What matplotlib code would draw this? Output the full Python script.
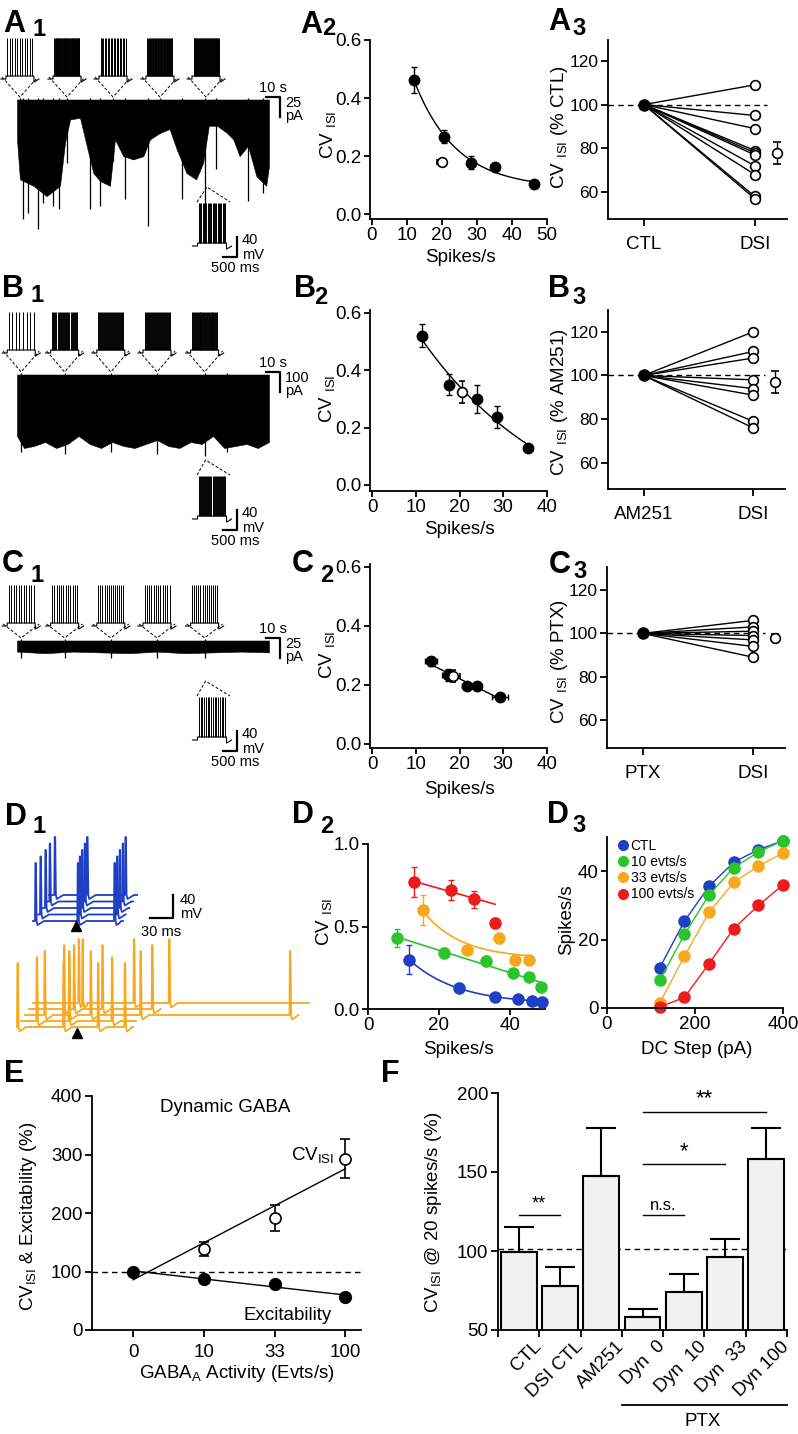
import numpy as np
import matplotlib
matplotlib.use("Agg")
import matplotlib.pyplot as plt
from matplotlib.lines import Line2D

plt.rcParams["font.family"] = ["Liberation Sans", "DejaVu Sans"]
plt.rcParams["mathtext.fontset"] = "custom"
plt.rcParams["mathtext.rm"] = "Liberation Sans"
plt.rcParams["mathtext.it"] = "Liberation Sans:italic"
plt.rcParams["mathtext.bf"] = "Liberation Sans:bold"

BLUE, GREEN, ORANGE, RED = "#1f3fc4", "#2cc42c", "#f7a81e", "#ec1c1c"
CV = r"CV $_{\mathrm{ISI}}$"

# ---------------- data ----------------
# A1-C1 recordings: lower envelope of the IPSC barrage (s, pA) and big events
a1_t = [0, 2.1, 11.7, 21.2, 30.7, 34.3, 37.9, 45, 49.8, 54.5, 59.3, 66.4, 70, 75.9, 83,
        90.2, 95, 102, 109, 114, 121, 128, 133, 137, 143, 150, 154.5, 159, 165, 171, 178, 180]
a1_depth = [48, 98, 106, 119, 106, 52, 23, 21, 56, 90, 100, 106, 48, 69, 73,
            69, 48, 40, 35, 60, 90, 98, 77, 31, 31, 40, 48, 69, 56, 94, 106, 81]
a1_ev_t = [2.1, 4.5, 7.9, 15.3, 18.9, 26, 30.2, 35.5, 52, 59.3, 68.6, 77.4, 93.9, 102.1,
           117.6, 134.4, 142.1, 165, 176]
a1_ev_depth = [60, 148, 140, 160, 127, 131, 135, 77, 135, 131, 75, 123, 156, 40,
               123, 160, 85, 125, 115]
a1_inset_t = [2.1, 35.7, 68.6, 102.1, 135]
a1_inset_spikes = [11, 45, 18, 35, 45]
a1_dsi_spikes = 22

b1_t = [0, 5, 12, 20, 28, 36, 44, 52, 60, 68, 76, 84, 92, 100, 108, 116, 124, 132, 140,
        148, 156, 164, 172, 180]
b1_depth = [300, 360, 350, 330, 360, 340, 300, 340, 360, 330, 350, 360, 340, 320, 350,
            360, 330, 340, 300, 360, 350, 340, 360, 330]
b1_ev_t = [3, 34, 67, 100, 134, 150]
b1_ev_depth = [380, 390, 380, 390, 400, 380]
b1_inset_t = [3, 34, 67, 100, 134]
b1_inset_spikes = [8, 24, 26, 26, 28]
b1_dsi_spikes = 26

c1_t = [0, 20, 40, 60, 80, 100, 120, 140, 160, 180]
c1_depth = [12, 14, 12, 13, 14, 12, 14, 13, 12, 13]
c1_ev_t = [3, 34, 67, 100, 134]
c1_ev_depth = [20, 20, 20, 20, 20]
c1_inset_t = [3, 34, 67, 100, 134]
c1_inset_spikes = [11, 12, 13, 12, 13]
c1_dsi_spikes = 16

# D1: spike times (ms) of the stacked dynamic-clamp sweeps
d1_ctl_spikes = [[2.6, 57.8, 105.6], [3.9, 55.2, 103.9], [5.2, 53.1, 102.1],
                 [5.6, 51.3, 100.8], [6.9, 49.2, 99.1]]
d1_33_spikes = [[0, 60, 105, 140], [20, 62, 118], [25, 57, 85, 150, 345],
                [45, 58, 95, 160], [59, 64, 131, 177]]
d1_33_len = [150, 150, 200, 140, 360]

# A2 / B2 / C2 : CV_ISI vs firing (filled = control, open = DSI)
a2_rate = [12.0, 20.7, 28.3, 35.1, 46.4]
a2_cv = [0.462, 0.267, 0.177, 0.163, 0.102]
a2_err = [0.046, 0.022, 0.023, 0.0, 0.0]
a2_dsi_rate, a2_dsi_cv, a2_dsi_xerr = [19.9], [0.178], [1.3]

b2_rate = [11.4, 17.6, 23.9, 28.6, 35.6]
b2_cv = [0.52, 0.35, 0.30, 0.238, 0.128]
b2_err = [0.04, 0.038, 0.05, 0.038, 0.0]
b2_dsi_rate, b2_dsi_cv, b2_dsi_err = [20.5], [0.325], [0.038]

c2_rate = [13.5, 17.3, 21.6, 23.9, 29.3]
c2_cv = [0.28, 0.235, 0.195, 0.195, 0.16]
c2_err = [0.015, 0.02, 0.01, 0.01, 0.0]
c2_xerr = [1.3, 1.3, 1.0, 1.0, 1.8]
c2_dsi_rate, c2_dsi_cv, c2_dsi_err, c2_dsi_xerr = [18.6], [0.23], [0.02], [1.5]

# A3 / B3 / C3 : normalised CV_ISI after DSI
a3_dsi = [109, 95, 89, 79, 78, 77, 72, 68, 58, 57]
a3_mean, a3_sem = 78, 5
b3_dsi = [120, 111, 108, 98, 94, 91, 79, 76]
b3_mean, b3_sem = 97, 5
c3_dsi = [106, 103, 101, 99, 97, 94, 89]
c3_mean, c3_sem = 98, 1.5

# D2 : CV_ISI vs spikes/s for each dynamic GABA rate
d2_ctl_rate = [11.6, 25.7, 35.8, 42.5, 46.2, 49.2]
d2_ctl_cv = [0.30, 0.125, 0.075, 0.06, 0.05, 0.045]
d2_ctl_err = [0.09, 0, 0, 0, 0, 0]
d2_10_rate = [8.1, 21.5, 33.4, 40.9, 45.4, 48.9]
d2_10_cv = [0.43, 0.34, 0.29, 0.22, 0.195, 0.135]
d2_10_err = [0.055, 0.03, 0.03, 0, 0, 0]
d2_33_rate = [15.4, 28.1, 36.9, 41.6, 45.4]
d2_33_cv = [0.60, 0.36, 0.43, 0.30, 0.30]
d2_33_err = [0.09, 0.025, 0.03, 0, 0]
d2_100_rate = [13.0, 23.5, 29.9, 35.9]
d2_100_cv = [0.77, 0.72, 0.665, 0.52]
d2_100_err = [0.09, 0.06, 0.05, 0.03]

# D3 : f-I curves
d3_step = [120, 176, 232, 288, 344, 400]
d3_ctl = [11.8, 25.4, 35.6, 42.6, 46.3, 48.9]
d3_10 = [8.2, 21.5, 33.1, 41.0, 45.6, 48.9]
d3_33 = [1.5, 15.1, 28.0, 36.7, 41.5, 45.3]
d3_100 = [0.3, 3.1, 13.0, 23.2, 30.0, 36.0]
d3_labels = ["CTL", "10 evts/s", "33 evts/s", "100 evts/s"]

# E : dynamic GABA summary
e_ticks = ["0", "10", "33", "100"]
e_cv = [100, 138, 192, 293]
e_cv_err = [0, 12, 22, 34]
e_exc = [100, 86.7, 78, 57]

# F : CV_ISI at 20 spikes/s
f_labels = ["CTL", "DSI CTL", "AM251", "Dyn  0", "Dyn  10", "Dyn  33", "Dyn 100"]
f_vals = [99.5, 78, 147.5, 58.4, 74, 96, 158]
f_err = [15.5, 11.6, 30.5, 4.6, 11.6, 11.4, 20]
f_sig = [(0, 1, 122.8, "**"), (3, 4, 122.8, "n.s."), (3, 5, 155, "*"), (3, 6, 188, "**")]

# ---------------- figure ----------------
W, H = 798, 1434
fig = plt.figure(figsize=(W / 100, H / 100), dpi=100)

ov = fig.add_axes([0, 0, 1, 1], zorder=5)
ov.set_xlim(0, W)
ov.set_ylim(H, 0)
ov.axis("off")

FS = 13.5


def px_axes(x0, y0, x1, y1):
    return fig.add_axes([x0 / W, 1 - y1 / H, (x1 - x0) / W, (y1 - y0) / H])


def style(ax, ticklen=4, xpad=2):
    for s in ["top", "right"]:
        ax.spines[s].set_visible(False)
    for s in ["left", "bottom"]:
        ax.spines[s].set_linewidth(1.3)
    ax.tick_params(direction="out", length=ticklen, width=1.3, labelsize=FS, pad=2)
    ax.tick_params(axis="x", pad=xpad)
    ax.patch.set_alpha(0)


def label(x, y, letter, sub, sx, sy):
    ov.text(x, y, letter, fontsize=22, fontweight="bold", va="baseline", ha="left")
    ov.text(sx, sy, sub, fontsize=17, fontweight="bold", va="baseline", ha="left")


def exp_curve(x, y, n=120):
    x = np.asarray(x, float)
    y = np.asarray(y, float)
    best = None
    for k in np.linspace(0.005, 0.4, 400):
        A = np.column_stack([np.exp(-k * x), np.ones_like(x)])
        coef = np.linalg.lstsq(A, y, rcond=None)[0]
        r = np.sum((A @ coef - y) ** 2)
        if best is None or r < best[0]:
            best = (r, k, coef)
    _, k, coef = best
    xs = np.linspace(x.min(), x.max(), n)
    return xs, coef[0] * np.exp(-k * xs) + coef[1]


def lin_curve(x, y):
    p = np.polyfit(x, y, 1)
    xs = np.array([min(x), max(x)])
    return xs, np.polyval(p, xs)


# ---- recording helpers (pixel coordinates on overlay) ----
def recording(t, depth, ev_t, ev_d, x0, pxs, base, pxa):
    x = x0 + np.asarray(t) * pxs
    ov.fill_between(x, base - 1.5, base + np.asarray(depth) * pxa, color="k", lw=0.4)
    ex = x0 + np.asarray(ev_t) * pxs
    ov.vlines(ex, base - 3, base + np.asarray(ev_d) * pxa, color="k", lw=0.9)


def step_inset(cx, top, n, width=28, height=38, color="k"):
    xl, xr = cx - width / 2, cx + width / 2
    yp = top + height
    yb = yp + 3
    ov.plot([xl - 5, xl, xl, xr, xr, xr + 2, xr + 5],
            [yb, yb, yp, yp, yb + 3, yb + 2, yb], color=color, lw=0.8)
    ov.vlines(np.linspace(xl + 1.5, xr - 1.5, n), top, yp, color=color, lw=0.7)
    return yb


def dash_v(cx, y_arm, apex_x, apex_y, half=18):
    ov.plot([cx - half, apex_x, cx + half], [y_arm, apex_y, y_arm], color="k",
            lw=0.7, ls=(0, (3, 2)))


def scalebar_h_v(x_left, x_corner, y_top, y_corner, lw=1.6):
    ov.plot([x_left, x_corner, x_corner], [y_corner, y_corner, y_top], color="k", lw=lw)


def recording_panel(t, depth, ev_t, ev_d, ins_t, ins_n, dsi_n, pa_label, pxa,
                    base, ins_top, bot_top):
    x0, pxs = 17, 1.4
    recording(t, depth, ev_t, ev_d, x0, pxs, base, pxa)
    for tt, n in zip(ins_t, ins_n):
        cx = x0 + tt * pxs
        yb = step_inset(cx, ins_top, n)
        dash_v(cx, yb - 2, cx, base - 4)
    # time / current scale bar
    ov.plot([266, 280, 280], [base - 4, base - 4, base + 16], color="k", lw=1.6)
    ov.text(273, base - 9, "10 s", fontsize=10.5, ha="center", va="baseline")
    ov.text(285, base + 2, pa_label[0], fontsize=10.5, ha="left", va="center")
    ov.text(285, base + 15, pa_label[1], fontsize=10.5, ha="left", va="center")
    # DSI sweep
    cx = x0 + ins_t[-1] * pxs
    step_inset(212, bot_top, dsi_n, width=29, height=40)
    dash_v(213.5, bot_top - 1, cx + 1, bot_top - 16, half=16.5)
    scalebar_h_v(223, 237, bot_top + 34, bot_top + 54)
    ov.text(242, bot_top + 37, "40", fontsize=10.5, ha="left", va="center")
    ov.text(242, bot_top + 52, "mV", fontsize=10.5, ha="left", va="center")
    ov.text(235, bot_top + 65, "500 ms", fontsize=10.5, ha="center", va="center")


# ================= labels =================
label(3, 32, "A", "1", 33, 36)
label(300, 33, "A", "2", 322, 35)
label(548, 30, "A", "3", 572, 35)
label(2, 297, "B", "1", 30, 302)
label(294, 297, "B", "2", 314, 304)
label(548, 297, "B", "3", 572, 304)
label(2, 572, "C", "1", 30, 582)
label(292, 572, "C", "2", 320, 582)
label(549, 573, "C", "3", 573, 578)
label(5, 825, "D", "1", 32, 833)
label(292, 823, "D", "2", 320, 833)
label(547, 823, "D", "3", 572, 832)
ov.text(4, 1082, "E", fontsize=22, fontweight="bold", va="baseline")
ov.text(381, 1082, "F", fontsize=22, fontweight="bold", va="baseline")

# ================= recordings A1-C1 =================
recording_panel(a1_t, a1_depth, a1_ev_t, a1_ev_depth, a1_inset_t, a1_inset_spikes,
                a1_dsi_spikes, ("25", "pA"), 0.8, 101, 38, 203)
recording_panel(b1_t, b1_depth, b1_ev_t, b1_ev_depth, b1_inset_t, b1_inset_spikes,
                b1_dsi_spikes, ("100", "pA"), 0.2, 376, 312, 476)
recording_panel(c1_t, c1_depth, c1_ev_t, c1_ev_depth, c1_inset_t, c1_inset_spikes,
                c1_dsi_spikes, ("25", "pA"), 0.8, 642, 585, 697)


def cv_panel(ax, rate, cv, err, dsi_rate, dsi_cv, dsi_yerr, dsi_xerr, xerr=None,
             curve="exp"):
    style(ax)
    if curve == "exp":
        xs, ys = exp_curve(rate, cv)
    else:
        xs, ys = lin_curve(rate, cv)
    ax.plot(xs, ys, color="k", lw=1)
    ax.errorbar(rate, cv, yerr=err, xerr=xerr, fmt="o", color="k", ms=7.5, capsize=2.5,
                elinewidth=1, capthick=1, clip_on=False, zorder=3)
    ax.errorbar(dsi_rate, dsi_cv, yerr=dsi_yerr, xerr=dsi_xerr, fmt="o", color="k",
                mfc="white", mec="k", mew=1.2, ms=7, capsize=2.5, elinewidth=1,
                capthick=1, clip_on=False, zorder=4)
    ax.set_yticks([0, 0.2, 0.4, 0.6])
    ax.set_yticklabels(["0.0", "0.2", "0.4", "0.6"])


def norm_panel(ax, vals, mean, sem, cats):
    style(ax, ticklen=5, xpad=7)
    ax.tick_params(axis="y", labelsize=12.5)
    ax.set_xlim(-0.324, 1.29)
    ax.set_ylim(47.7, 129.5)
    ax.plot([-0.324, 1.11], [100, 100], color="k", lw=1, ls=(0, (4, 3)), zorder=1)
    for v in vals:
        ax.plot([0, 1], [100, v], color="k", lw=1, zorder=2)
    ax.plot([1] * len(vals), vals, "o", mfc="white", mec="k", mew=1.2, ms=7, zorder=3)
    ax.plot([0], [100], "o", color="k", ms=8, zorder=4)
    ax.errorbar([1.2], [mean], yerr=[sem], fmt="o", mfc="white", mec="k", color="k",
                mew=1.2, ms=7, capsize=3, elinewidth=1, capthick=1)
    ax.set_xticks([0, 1])
    ax.set_xticklabels(cats)
    ax.set_yticks([60, 80, 100, 120])


# A2
ax = px_axes(370, 40, 547, 219)
cv_panel(ax, a2_rate, a2_cv, a2_err, a2_dsi_rate, a2_dsi_cv, None, a2_dsi_xerr)
ax.set_xlim(-0.57, 50)
ax.set_ylim(-0.017, 0.6)
ax.set_xticks(range(0, 51, 10))
ov.text(328, 135, CV, rotation=90, fontsize=FS, ha="center", va="center")
ov.text(460, 257, "Spikes/s", fontsize=FS, ha="center", va="center")

# A3
ax = px_axes(608, 40, 787, 219)
norm_panel(ax, a3_dsi, a3_mean, a3_sem, ["CTL", "DSI"])
ov.text(559, 127, CV + " (% CTL)", rotation=90, fontsize=FS, ha="center", va="center")

# B2
ax = px_axes(370, 310, 547, 491)
cv_panel(ax, b2_rate, b2_cv, b2_err, b2_dsi_rate, b2_dsi_cv, b2_dsi_err, None)
ax.set_xlim(-0.46, 40)
ax.set_ylim(-0.021, 0.61)
ax.set_xticks(range(0, 41, 10))
ov.text(327, 399, CV, rotation=90, fontsize=FS, ha="center", va="center")
ov.text(459, 530, "Spikes/s", fontsize=FS, ha="center", va="center")

# B3
ax = px_axes(608, 310, 785, 489)
norm_panel(ax, b3_dsi, b3_mean, b3_sem, ["AM251", "DSI"])
ax.set_ylim(48, 130)
ov.text(559, 402, CV + " (% AM251)", rotation=90, fontsize=FS, ha="center", va="center")

# C2
ax = px_axes(370, 564, 547, 748)
cv_panel(ax, c2_rate, c2_cv, c2_err, c2_dsi_rate, c2_dsi_cv, c2_dsi_err, c2_dsi_xerr,
         xerr=c2_xerr, curve="lin")
ax.set_xlim(-0.46, 40)
ax.set_ylim(-0.0136, 0.61)
ax.set_xticks(range(0, 41, 10))
ov.text(327, 655, CV, rotation=90, fontsize=FS, ha="center", va="center")
ov.text(459, 790, "Spikes/s", fontsize=FS, ha="center", va="center")

# C3
ax = px_axes(607, 567, 785, 748)
norm_panel(ax, c3_dsi, c3_mean, c3_sem, ["PTX", "DSI"])
ax.set_ylim(47, 130.7)
ov.text(559, 662, CV + " (% PTX)", rotation=90, fontsize=FS, ha="center", va="center")

# ================= D row =================
pxms = 23 / 30.0
spike_shape_x = [0, 0.4, 0.9, 1.6, 2.5, 5, 9]
spike_shape_y = [0, -58, -58, 0, 4, 2.5, 0]


def sweep(x_start, base, length_ms, spikes, color, amp=1.0):
    xs = [x_start]
    ys = [base]
    for s in sorted(spikes):
        sx = x_start + s * pxms
        for dx, dy in zip(spike_shape_x, spike_shape_y):
            xs.append(sx + dx)
            ys.append(base + dy * amp)
    xs.append(x_start + length_ms * pxms)
    ys.append(base)
    order = np.argsort(xs, kind="stable")
    ov.plot(np.asarray(xs)[order], np.asarray(ys)[order], color=color, lw=1.3)


for i, sp in enumerate(d1_ctl_spikes):
    sweep(33 + 4 * i, 921 - 6.5 * i, 115, sp, BLUE)
for i, (sp, ln) in enumerate(zip(d1_33_spikes, d1_33_len)):
    sweep(17 + 4 * i, 1027 - 6 * i, ln, sp, ORANGE, amp=1.1)
ov.plot([76], [926], marker="^", color="k", ms=7)
ov.plot([77], [1033], marker="^", color="k", ms=7)
scalebar_h_v(150, 173, 895, 918)
ov.text(180, 900, "40", fontsize=10.5, ha="left", va="center")
ov.text(180, 914, "mV", fontsize=10.5, ha="left", va="center")
ov.text(161, 932, "30 ms", fontsize=10.5, ha="center", va="center")

# D2
ax = px_axes(368, 844, 545, 1009)
style(ax)
ax.set_xlim(0, 50)
ax.set_ylim(0, 1.0)
for rate, cv, err, col, kind in [(d2_ctl_rate, d2_ctl_cv, d2_ctl_err, BLUE, "exp"),
                                 (d2_10_rate, d2_10_cv, d2_10_err, GREEN, "lin"),
                                 (d2_33_rate, d2_33_cv, d2_33_err, ORANGE, "exp"),
                                 (d2_100_rate, d2_100_cv, d2_100_err, RED, "lin3")]:
    if kind == "exp":
        xs, ys = exp_curve(rate, cv)
    elif kind == "lin":
        xs, ys = lin_curve(rate, cv)
    else:
        xs = np.array([rate[0], rate[-1]])
        ys = np.polyval(np.polyfit(rate[:3], cv[:3], 1), xs)
    ax.plot(xs, ys, color=col, lw=1.2)
    ax.errorbar(rate, cv, yerr=err, fmt="o", color=col, ms=8, capsize=2.5,
                elinewidth=1, capthick=1, clip_on=False, zorder=3)
ax.set_yticks([0, 0.5, 1.0])
ax.set_yticklabels(["0.0", "0.5", "1.0"])
ax.set_xticks([0, 20, 40])
ov.text(324, 922, CV, rotation=90, fontsize=FS, ha="center", va="center")
ov.text(458, 1050, "Spikes/s", fontsize=FS, ha="center", va="center")

# D3
ax = px_axes(607, 837, 783, 1008)
style(ax)
ax.set_xlim(0, 400)
ax.set_ylim(0, 50)
handles = []
for ys, col, lab in zip([d3_ctl, d3_10, d3_33, d3_100], [BLUE, GREEN, ORANGE, RED],
                        d3_labels):
    ax.plot(d3_step, ys, "-o", color=col, lw=1, ms=8, clip_on=False)
    handles.append(Line2D([], [], marker="o", ls="none", color=col, ms=7, label=lab))
ax.set_xticks([0, 200, 400])
ax.set_yticks([0, 20, 40])
ax.legend(handles=handles, loc="upper left", bbox_to_anchor=(0.02, 1.02), frameon=False,
          fontsize=10, handletextpad=0.05, labelspacing=0.15, borderaxespad=0,
          handlelength=1.0)
ov.text(567, 920, "Spikes/s", rotation=90, fontsize=FS, ha="center", va="center")
ov.text(697, 1050, "DC Step (pA)", fontsize=FS, ha="center", va="center")

# ================= E =================
ax = px_axes(92, 1096, 361, 1330)
style(ax, ticklen=5, xpad=5)
ax.set_xlim(-0.58, 3.22)
ax.set_ylim(0, 400)
xpos = np.arange(len(e_ticks))
ax.plot([-0.58, 3.22], [100, 100], color="k", lw=1, ls=(0, (4, 3)))
pc = np.polyfit(xpos, e_cv, 1)
ax.plot([0, 3], np.polyval(pc, [0, 3]), color="k", lw=1)
pe = np.polyfit(xpos, e_exc, 1)
ax.plot([0, 3], np.polyval(pe, [0, 3]), color="k", lw=1)
ax.errorbar(xpos[1:], e_cv[1:], yerr=e_cv_err[1:], fmt="o", mfc="white", mec="k",
            color="k", mew=1.2, ms=8, capsize=3.5, elinewidth=1.2, capthick=1.2, zorder=3)
ax.plot(xpos, e_exc, "o", color="k", ms=8.5, zorder=3)
ax.set_xticks(xpos)
ax.set_xticklabels(e_ticks)
ax.set_yticks([0, 100, 200, 300, 400])
ov.text(225, 1107, "Dynamic GABA", fontsize=FS, ha="center", va="center")
ov.text(313, 1155, r"CV$_{\mathrm{ISI}}$", fontsize=FS, ha="center", va="center")
ov.text(288, 1315, "Excitability", fontsize=FS, ha="center", va="center")
ov.text(29, 1216, r"CV$_{\mathrm{ISI}}$ & Excitability (%)", rotation=90, fontsize=FS,
        ha="center", va="center")
ov.text(237, 1373, r"GABA$_{\mathrm{A}}$ Activity (Evts/s)", fontsize=FS, ha="center",
        va="center")

# ================= F =================
ax = px_axes(498, 1093, 787, 1330)
style(ax, ticklen=5)
ax.set_xlim(-0.5, 6.5)
ax.set_ylim(50, 200)
fx = np.arange(len(f_vals))
ax.plot([-0.5, 6.5], [101.3, 101.3], color="k", lw=1, ls=(0, (4, 3)), zorder=1)
ax.bar(fx, f_vals, width=0.87, color="#f1f1f1", edgecolor="k", lw=1.5, zorder=2)
ax.errorbar(fx, f_vals, yerr=[np.zeros(len(f_err)), f_err], fmt="none", ecolor="k",
            elinewidth=1.5, capsize=11, capthick=1.5, zorder=3)
ax.set_xticks(np.arange(-0.5, 7, 1))
ax.set_xticklabels([])
ax.set_yticks([50, 100, 150, 200])
for a, b, y, s in f_sig:
    ax.plot([a, b], [y, y], color="k", lw=1)
    if s == "n.s.":
        fs = 12
    elif a == 0:
        fs = 13
    else:
        fs = 16
    ax.text((a + b) / 2, y + 1.5, s, ha="center", va="bottom", fontsize=fs)
for i, lab in enumerate(f_labels):
    xc = 519 + i * 41.2
    ov.text(xc + 14, 1338, lab, rotation=45, rotation_mode="anchor", ha="right",
            va="top", fontsize=FS)
ov.plot([622, 787], [1405, 1405], color="k", lw=1.3)
ov.text(703, 1422, "PTX", fontsize=FS, ha="center", va="center")
ov.text(433, 1212, r"CV$_{\mathrm{ISI}}$ @ 20 spikes/s (%)", rotation=90, fontsize=FS,
        ha="center", va="center")

fig.savefig("out.png", dpi=100)
